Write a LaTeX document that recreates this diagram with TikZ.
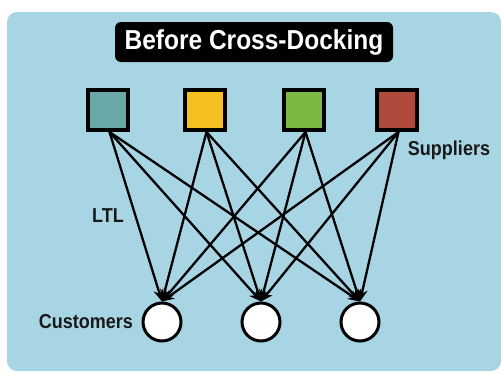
\documentclass[tikz,border=0pt]{standalone}
\usepackage{fontspec}
\setmainfont{Liberation Sans}
\usetikzlibrary{arrows.meta}
\definecolor{panelblue}{HTML}{A8D5E4}
\definecolor{sqteal}{HTML}{6AA8A8}
\definecolor{sqyellow}{HTML}{F6C020}
\definecolor{sqgreen}{HTML}{7BB843}
\definecolor{sqred}{HTML}{B04A3C}
\newcommand{\tallbox}[1]{\scalebox{1}[1.12]{#1}}
\tikzset{
  supplier/.style={draw=black, line width=4pt, minimum size=40pt, inner sep=0pt},
  customer/.style={draw=black, fill=white, circle, line width=3pt, minimum size=38pt, inner sep=0pt},
  ltl/.style={line width=2.3pt, -{Stealth[length=12pt,width=10pt]}},
  lbl/.style={font=\bfseries\fontsize{18}{21}\selectfont, text=black!90},
}
\begin{document}
\begin{tikzpicture}[x=1pt,y=-1pt]
  \useasboundingbox (0,0) rectangle (501,372);
  % panel
  \fill[panelblue, rounded corners=10pt] (7,12) rectangle (501,371);
  % title
  \node[fill=black, rounded corners=6pt, minimum width=278pt, minimum height=40pt,
        text=white, font=\bfseries\fontsize{24.5}{28}\selectfont] (title) at (254,42)
        {\tallbox{Before Cross-Docking}};
  % suppliers
  \node[supplier, fill=sqteal]   (s1) at (108,110) {};
  \node[supplier, fill=sqyellow] (s2) at (205,110) {};
  \node[supplier, fill=sqgreen]  (s3) at (304,110) {};
  \node[supplier, fill=sqred]    (s4) at (397,110) {};
  % customers
  \node[customer] (c1) at (162,322) {};
  \node[customer] (c2) at (261,322) {};
  \node[customer] (c3) at (360,322) {};
  % direct shipments
  \foreach \s in {s1,s2,s3,s4}
    \foreach \c in {c1,c2,c3}
      \draw[ltl] ([xshift=1.5pt]\s.south) -- (\c.north);
  % labels
  \node[lbl] (lsup) at (449,150) {\tallbox{Suppliers}};
  \node[lbl] (lltl) at (108,216) {\tallbox{LTL}};
  \node[lbl] (lcus) at (86,322) {\tallbox{Customers}};
\end{tikzpicture}
\end{document}
